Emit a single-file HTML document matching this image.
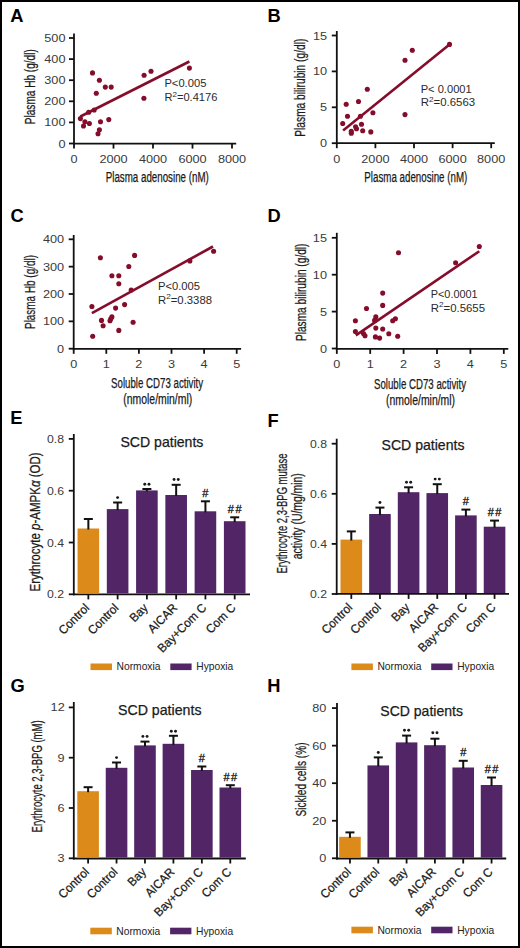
<!DOCTYPE html>
<html><head><meta charset="utf-8"><style>
html,body{margin:0;padding:0;background:#fff;}
body{width:520px;height:948px;overflow:hidden;}
svg{display:block;font-family:"Liberation Sans", sans-serif;}
</style></head><body>
<svg width="520" height="948" viewBox="0 0 520 948">
<rect x="0" y="0" width="520" height="948" fill="#fff"/>
<text x="10.15" y="22.3" font-size="18.3" fill="#000" text-anchor="start" font-weight="bold">A</text>
<line x1="74" y1="33.5" x2="74" y2="144.5" stroke="#111" stroke-width="1.8" stroke-linecap="butt"/>
<line x1="73.1" y1="143.6" x2="236.2" y2="143.6" stroke="#111" stroke-width="1.8" stroke-linecap="butt"/>
<line x1="69" y1="143.5" x2="74" y2="143.5" stroke="#111" stroke-width="1.8" stroke-linecap="butt"/>
<text x="65.5" y="147.5" font-size="11.3" fill="#3a3a3a" text-anchor="end" textLength="7.06" lengthAdjust="spacingAndGlyphs">0</text>
<line x1="69" y1="122.4" x2="74" y2="122.4" stroke="#111" stroke-width="1.8" stroke-linecap="butt"/>
<text x="65.5" y="126.4" font-size="11.3" fill="#3a3a3a" text-anchor="end" textLength="21.19" lengthAdjust="spacingAndGlyphs">100</text>
<line x1="69" y1="101.30000000000001" x2="74" y2="101.30000000000001" stroke="#111" stroke-width="1.8" stroke-linecap="butt"/>
<text x="65.5" y="105.30000000000001" font-size="11.3" fill="#3a3a3a" text-anchor="end" textLength="21.19" lengthAdjust="spacingAndGlyphs">200</text>
<line x1="69" y1="80.2" x2="74" y2="80.2" stroke="#111" stroke-width="1.8" stroke-linecap="butt"/>
<text x="65.5" y="84.2" font-size="11.3" fill="#3a3a3a" text-anchor="end" textLength="21.19" lengthAdjust="spacingAndGlyphs">300</text>
<line x1="69" y1="59.10000000000001" x2="74" y2="59.10000000000001" stroke="#111" stroke-width="1.8" stroke-linecap="butt"/>
<text x="65.5" y="63.10000000000001" font-size="11.3" fill="#3a3a3a" text-anchor="end" textLength="21.19" lengthAdjust="spacingAndGlyphs">400</text>
<line x1="69" y1="38.0" x2="74" y2="38.0" stroke="#111" stroke-width="1.8" stroke-linecap="butt"/>
<text x="65.5" y="42.0" font-size="11.3" fill="#3a3a3a" text-anchor="end" textLength="21.19" lengthAdjust="spacingAndGlyphs">500</text>
<line x1="74.0" y1="143.6" x2="74.0" y2="148.6" stroke="#111" stroke-width="1.8" stroke-linecap="butt"/>
<text x="74.0" y="163" font-size="11.3" fill="#3a3a3a" text-anchor="middle" textLength="7.06" lengthAdjust="spacingAndGlyphs">0</text>
<line x1="113.5" y1="143.6" x2="113.5" y2="148.6" stroke="#111" stroke-width="1.8" stroke-linecap="butt"/>
<text x="113.5" y="163" font-size="11.3" fill="#3a3a3a" text-anchor="middle" textLength="28.25" lengthAdjust="spacingAndGlyphs">2000</text>
<line x1="153.0" y1="143.6" x2="153.0" y2="148.6" stroke="#111" stroke-width="1.8" stroke-linecap="butt"/>
<text x="153.0" y="163" font-size="11.3" fill="#3a3a3a" text-anchor="middle" textLength="28.25" lengthAdjust="spacingAndGlyphs">4000</text>
<line x1="192.5" y1="143.6" x2="192.5" y2="148.6" stroke="#111" stroke-width="1.8" stroke-linecap="butt"/>
<text x="192.5" y="163" font-size="11.3" fill="#3a3a3a" text-anchor="middle" textLength="28.25" lengthAdjust="spacingAndGlyphs">6000</text>
<line x1="232.0" y1="143.6" x2="232.0" y2="148.6" stroke="#111" stroke-width="1.8" stroke-linecap="butt"/>
<text x="232.0" y="163" font-size="11.3" fill="#3a3a3a" text-anchor="middle" textLength="28.25" lengthAdjust="spacingAndGlyphs">8000</text>
<text x="35.4" y="86.7" font-size="13.8" fill="#1a1a1a" text-anchor="middle" textLength="75" lengthAdjust="spacingAndGlyphs" transform="rotate(-90 35.4 86.7)" stroke="#1a1a1a" stroke-width="0.25">Plasma Hb (g/dl)</text>
<text x="157.25" y="182.4" font-size="13.8" fill="#1a1a1a" text-anchor="middle" textLength="103" lengthAdjust="spacingAndGlyphs" stroke="#1a1a1a" stroke-width="0.25">Plasma adenosine (nM)</text>
<line x1="80.4" y1="116.5" x2="189.4" y2="61.5" stroke="#850d2c" stroke-width="2.6" stroke-linecap="butt"/>
<circle cx="92.5" cy="72.9" r="2.55" fill="#850d2c"/>
<circle cx="99.4" cy="80.2" r="2.55" fill="#850d2c"/>
<circle cx="105.3" cy="87.1" r="2.55" fill="#850d2c"/>
<circle cx="111.2" cy="87.1" r="2.55" fill="#850d2c"/>
<circle cx="96.3" cy="93.3" r="2.55" fill="#850d2c"/>
<circle cx="144.1" cy="75.3" r="2.55" fill="#850d2c"/>
<circle cx="151" cy="71.2" r="2.55" fill="#850d2c"/>
<circle cx="143.9" cy="98.2" r="2.55" fill="#850d2c"/>
<circle cx="80.4" cy="118.6" r="2.55" fill="#850d2c"/>
<circle cx="84.9" cy="121.7" r="2.55" fill="#850d2c"/>
<circle cx="83.5" cy="126" r="2.55" fill="#850d2c"/>
<circle cx="89.4" cy="123.5" r="2.55" fill="#850d2c"/>
<circle cx="88.7" cy="112.2" r="2.55" fill="#850d2c"/>
<circle cx="94.2" cy="110" r="2.55" fill="#850d2c"/>
<circle cx="100.5" cy="121.7" r="2.55" fill="#850d2c"/>
<circle cx="108.8" cy="119.6" r="2.55" fill="#850d2c"/>
<circle cx="99.4" cy="129.7" r="2.55" fill="#850d2c"/>
<circle cx="98" cy="133.8" r="2.55" fill="#850d2c"/>
<circle cx="189.4" cy="68.1" r="2.55" fill="#850d2c"/>
<text x="164.4" y="87.3" font-size="10.5" fill="#2a2a2a" text-anchor="start" textLength="42" lengthAdjust="spacingAndGlyphs">P&lt;0.005</text>
<text x="164.4" y="100.8" font-size="10.5" fill="#2a2a2a" textLength="53" lengthAdjust="spacingAndGlyphs">R<tspan font-size="7.6" dy="-4.3">2</tspan><tspan dy="4.3">=0.4176</tspan></text>
<text x="267.6" y="22.3" font-size="18.3" fill="#000" text-anchor="start" font-weight="bold">B</text>
<line x1="336.8" y1="31" x2="336.8" y2="144.1" stroke="#111" stroke-width="1.8" stroke-linecap="butt"/>
<line x1="335.90000000000003" y1="143.2" x2="494.8" y2="143.2" stroke="#111" stroke-width="1.8" stroke-linecap="butt"/>
<line x1="331.8" y1="143.2" x2="336.8" y2="143.2" stroke="#111" stroke-width="1.8" stroke-linecap="butt"/>
<text x="327.1" y="147.2" font-size="11.3" fill="#3a3a3a" text-anchor="end" textLength="7.06" lengthAdjust="spacingAndGlyphs">0</text>
<line x1="331.8" y1="107.29999999999998" x2="336.8" y2="107.29999999999998" stroke="#111" stroke-width="1.8" stroke-linecap="butt"/>
<text x="327.1" y="111.29999999999998" font-size="11.3" fill="#3a3a3a" text-anchor="end" textLength="7.06" lengthAdjust="spacingAndGlyphs">5</text>
<line x1="331.8" y1="71.39999999999999" x2="336.8" y2="71.39999999999999" stroke="#111" stroke-width="1.8" stroke-linecap="butt"/>
<text x="327.1" y="75.39999999999999" font-size="11.3" fill="#3a3a3a" text-anchor="end" textLength="14.12" lengthAdjust="spacingAndGlyphs">10</text>
<line x1="331.8" y1="35.5" x2="336.8" y2="35.5" stroke="#111" stroke-width="1.8" stroke-linecap="butt"/>
<text x="327.1" y="39.5" font-size="11.3" fill="#3a3a3a" text-anchor="end" textLength="14.12" lengthAdjust="spacingAndGlyphs">15</text>
<line x1="336.8" y1="143.2" x2="336.8" y2="148.2" stroke="#111" stroke-width="1.8" stroke-linecap="butt"/>
<text x="336.8" y="163" font-size="11.3" fill="#3a3a3a" text-anchor="middle" textLength="7.06" lengthAdjust="spacingAndGlyphs">0</text>
<line x1="375.40000000000003" y1="143.2" x2="375.40000000000003" y2="148.2" stroke="#111" stroke-width="1.8" stroke-linecap="butt"/>
<text x="375.40000000000003" y="163" font-size="11.3" fill="#3a3a3a" text-anchor="middle" textLength="28.25" lengthAdjust="spacingAndGlyphs">2000</text>
<line x1="414.0" y1="143.2" x2="414.0" y2="148.2" stroke="#111" stroke-width="1.8" stroke-linecap="butt"/>
<text x="414.0" y="163" font-size="11.3" fill="#3a3a3a" text-anchor="middle" textLength="28.25" lengthAdjust="spacingAndGlyphs">4000</text>
<line x1="452.6" y1="143.2" x2="452.6" y2="148.2" stroke="#111" stroke-width="1.8" stroke-linecap="butt"/>
<text x="452.6" y="163" font-size="11.3" fill="#3a3a3a" text-anchor="middle" textLength="28.25" lengthAdjust="spacingAndGlyphs">6000</text>
<line x1="491.20000000000005" y1="143.2" x2="491.20000000000005" y2="148.2" stroke="#111" stroke-width="1.8" stroke-linecap="butt"/>
<text x="491.20000000000005" y="163" font-size="11.3" fill="#3a3a3a" text-anchor="middle" textLength="28.25" lengthAdjust="spacingAndGlyphs">8000</text>
<text x="305.5" y="87.7" font-size="13.8" fill="#1a1a1a" text-anchor="middle" textLength="98" lengthAdjust="spacingAndGlyphs" transform="rotate(-90 305.5 87.7)" stroke="#1a1a1a" stroke-width="0.25">Plasma bilirubin (g/dl)</text>
<text x="415.8" y="182.3" font-size="13.8" fill="#1a1a1a" text-anchor="middle" textLength="103" lengthAdjust="spacingAndGlyphs" stroke="#1a1a1a" stroke-width="0.25">Plasma adenosine (nM)</text>
<line x1="343.1" y1="130.4" x2="449.5" y2="44.4" stroke="#850d2c" stroke-width="2.6" stroke-linecap="butt"/>
<circle cx="412.3" cy="50.2" r="2.55" fill="#850d2c"/>
<circle cx="405" cy="60.2" r="2.55" fill="#850d2c"/>
<circle cx="405" cy="114.6" r="2.55" fill="#850d2c"/>
<circle cx="367.3" cy="89.2" r="2.55" fill="#850d2c"/>
<circle cx="358.5" cy="101.5" r="2.55" fill="#850d2c"/>
<circle cx="346.2" cy="104.2" r="2.55" fill="#850d2c"/>
<circle cx="347.5" cy="116.2" r="2.55" fill="#850d2c"/>
<circle cx="342.7" cy="123.5" r="2.55" fill="#850d2c"/>
<circle cx="372.9" cy="112.7" r="2.55" fill="#850d2c"/>
<circle cx="360.4" cy="116.2" r="2.55" fill="#850d2c"/>
<circle cx="361.5" cy="124.2" r="2.55" fill="#850d2c"/>
<circle cx="355.6" cy="126.7" r="2.55" fill="#850d2c"/>
<circle cx="356.5" cy="128.8" r="2.55" fill="#850d2c"/>
<circle cx="351.3" cy="131.2" r="2.55" fill="#850d2c"/>
<circle cx="351.3" cy="133.3" r="2.55" fill="#850d2c"/>
<circle cx="362.7" cy="130.8" r="2.55" fill="#850d2c"/>
<circle cx="370.8" cy="131.9" r="2.55" fill="#850d2c"/>
<circle cx="449.5" cy="44.4" r="2.55" fill="#850d2c"/>
<text x="420.7" y="93.3" font-size="10.5" fill="#2a2a2a" text-anchor="start" textLength="51" lengthAdjust="spacingAndGlyphs">P&lt; 0.0001</text>
<text x="420.7" y="106.0" font-size="10.5" fill="#2a2a2a" textLength="54.4" lengthAdjust="spacingAndGlyphs">R<tspan font-size="7.6" dy="-4.3">2</tspan><tspan dy="4.3">=0.6563</tspan></text>
<text x="10.45" y="222.1" font-size="18.3" fill="#000" text-anchor="start" font-weight="bold">C</text>
<line x1="73.7" y1="235" x2="73.7" y2="349.7" stroke="#111" stroke-width="1.8" stroke-linecap="butt"/>
<line x1="72.8" y1="348.8" x2="241.1" y2="348.8" stroke="#111" stroke-width="1.8" stroke-linecap="butt"/>
<line x1="68.7" y1="348.7" x2="73.7" y2="348.7" stroke="#111" stroke-width="1.8" stroke-linecap="butt"/>
<text x="64.2" y="352.7" font-size="11.3" fill="#3a3a3a" text-anchor="end" textLength="7.06" lengthAdjust="spacingAndGlyphs">0</text>
<line x1="68.7" y1="321.34999999999997" x2="73.7" y2="321.34999999999997" stroke="#111" stroke-width="1.8" stroke-linecap="butt"/>
<text x="64.2" y="325.34999999999997" font-size="11.3" fill="#3a3a3a" text-anchor="end" textLength="21.19" lengthAdjust="spacingAndGlyphs">100</text>
<line x1="68.7" y1="294.0" x2="73.7" y2="294.0" stroke="#111" stroke-width="1.8" stroke-linecap="butt"/>
<text x="64.2" y="298.0" font-size="11.3" fill="#3a3a3a" text-anchor="end" textLength="21.19" lengthAdjust="spacingAndGlyphs">200</text>
<line x1="68.7" y1="266.65" x2="73.7" y2="266.65" stroke="#111" stroke-width="1.8" stroke-linecap="butt"/>
<text x="64.2" y="270.65" font-size="11.3" fill="#3a3a3a" text-anchor="end" textLength="21.19" lengthAdjust="spacingAndGlyphs">300</text>
<line x1="68.7" y1="239.29999999999998" x2="73.7" y2="239.29999999999998" stroke="#111" stroke-width="1.8" stroke-linecap="butt"/>
<text x="64.2" y="243.29999999999998" font-size="11.3" fill="#3a3a3a" text-anchor="end" textLength="21.19" lengthAdjust="spacingAndGlyphs">400</text>
<line x1="73.7" y1="348.8" x2="73.7" y2="353.8" stroke="#111" stroke-width="1.8" stroke-linecap="butt"/>
<text x="73.7" y="367.5" font-size="11.3" fill="#3a3a3a" text-anchor="middle" textLength="7.06" lengthAdjust="spacingAndGlyphs">0</text>
<line x1="106.30000000000001" y1="348.8" x2="106.30000000000001" y2="353.8" stroke="#111" stroke-width="1.8" stroke-linecap="butt"/>
<text x="106.30000000000001" y="367.5" font-size="11.3" fill="#3a3a3a" text-anchor="middle" textLength="7.06" lengthAdjust="spacingAndGlyphs">1</text>
<line x1="138.9" y1="348.8" x2="138.9" y2="353.8" stroke="#111" stroke-width="1.8" stroke-linecap="butt"/>
<text x="138.9" y="367.5" font-size="11.3" fill="#3a3a3a" text-anchor="middle" textLength="7.06" lengthAdjust="spacingAndGlyphs">2</text>
<line x1="171.5" y1="348.8" x2="171.5" y2="353.8" stroke="#111" stroke-width="1.8" stroke-linecap="butt"/>
<text x="171.5" y="367.5" font-size="11.3" fill="#3a3a3a" text-anchor="middle" textLength="7.06" lengthAdjust="spacingAndGlyphs">3</text>
<line x1="204.10000000000002" y1="348.8" x2="204.10000000000002" y2="353.8" stroke="#111" stroke-width="1.8" stroke-linecap="butt"/>
<text x="204.10000000000002" y="367.5" font-size="11.3" fill="#3a3a3a" text-anchor="middle" textLength="7.06" lengthAdjust="spacingAndGlyphs">4</text>
<line x1="236.7" y1="348.8" x2="236.7" y2="353.8" stroke="#111" stroke-width="1.8" stroke-linecap="butt"/>
<text x="236.7" y="367.5" font-size="11.3" fill="#3a3a3a" text-anchor="middle" textLength="7.06" lengthAdjust="spacingAndGlyphs">5</text>
<text x="35" y="292" font-size="13.8" fill="#1a1a1a" text-anchor="middle" textLength="74" lengthAdjust="spacingAndGlyphs" transform="rotate(-90 35 292)" stroke="#1a1a1a" stroke-width="0.25">Plasma Hb (g/dl)</text>
<text x="157.1" y="387.5" font-size="13.8" fill="#1a1a1a" text-anchor="middle" textLength="92" lengthAdjust="spacingAndGlyphs" stroke="#1a1a1a" stroke-width="0.25">Soluble CD73 activity</text>
<text x="157.75" y="404" font-size="13.8" fill="#1a1a1a" text-anchor="middle" textLength="69" lengthAdjust="spacingAndGlyphs" stroke="#1a1a1a" stroke-width="0.25">(nmole/min/ml)</text>
<line x1="91.9" y1="313.1" x2="213" y2="246.5" stroke="#850d2c" stroke-width="2.6" stroke-linecap="butt"/>
<circle cx="100.4" cy="257.7" r="2.55" fill="#850d2c"/>
<circle cx="134.6" cy="255.4" r="2.55" fill="#850d2c"/>
<circle cx="128.8" cy="266.5" r="2.55" fill="#850d2c"/>
<circle cx="111.9" cy="275.8" r="2.55" fill="#850d2c"/>
<circle cx="118.8" cy="275.8" r="2.55" fill="#850d2c"/>
<circle cx="118.8" cy="283.8" r="2.55" fill="#850d2c"/>
<circle cx="131.2" cy="290" r="2.55" fill="#850d2c"/>
<circle cx="91.9" cy="306.5" r="2.55" fill="#850d2c"/>
<circle cx="124.6" cy="304.6" r="2.55" fill="#850d2c"/>
<circle cx="115.6" cy="308.1" r="2.55" fill="#850d2c"/>
<circle cx="101.5" cy="320.4" r="2.55" fill="#850d2c"/>
<circle cx="111.9" cy="316.9" r="2.55" fill="#850d2c"/>
<circle cx="110.8" cy="318.8" r="2.55" fill="#850d2c"/>
<circle cx="110" cy="320.8" r="2.55" fill="#850d2c"/>
<circle cx="103.1" cy="325.8" r="2.55" fill="#850d2c"/>
<circle cx="133.1" cy="322.3" r="2.55" fill="#850d2c"/>
<circle cx="118.8" cy="330.4" r="2.55" fill="#850d2c"/>
<circle cx="92.7" cy="336.2" r="2.55" fill="#850d2c"/>
<circle cx="189.9" cy="260.9" r="2.55" fill="#850d2c"/>
<circle cx="213.6" cy="251.2" r="2.55" fill="#850d2c"/>
<text x="158" y="290.3" font-size="10.5" fill="#2a2a2a" text-anchor="start" textLength="42" lengthAdjust="spacingAndGlyphs">P&lt;0.005</text>
<text x="158" y="303.6" font-size="10.5" fill="#2a2a2a" textLength="54" lengthAdjust="spacingAndGlyphs">R<tspan font-size="7.6" dy="-4.3">2</tspan><tspan dy="4.3">=0.3388</tspan></text>
<text x="267.6" y="221.7" font-size="18.3" fill="#000" text-anchor="start" font-weight="bold">D</text>
<line x1="336.8" y1="232.8" x2="336.8" y2="349.79999999999995" stroke="#111" stroke-width="1.8" stroke-linecap="butt"/>
<line x1="335.90000000000003" y1="348.9" x2="508.3" y2="348.9" stroke="#111" stroke-width="1.8" stroke-linecap="butt"/>
<line x1="331.8" y1="348.5" x2="336.8" y2="348.5" stroke="#111" stroke-width="1.8" stroke-linecap="butt"/>
<text x="327" y="352.5" font-size="11.3" fill="#3a3a3a" text-anchor="end" textLength="7.06" lengthAdjust="spacingAndGlyphs">0</text>
<line x1="331.8" y1="311.6" x2="336.8" y2="311.6" stroke="#111" stroke-width="1.8" stroke-linecap="butt"/>
<text x="327" y="315.6" font-size="11.3" fill="#3a3a3a" text-anchor="end" textLength="7.06" lengthAdjust="spacingAndGlyphs">5</text>
<line x1="331.8" y1="274.7" x2="336.8" y2="274.7" stroke="#111" stroke-width="1.8" stroke-linecap="butt"/>
<text x="327" y="278.7" font-size="11.3" fill="#3a3a3a" text-anchor="end" textLength="14.12" lengthAdjust="spacingAndGlyphs">10</text>
<line x1="331.8" y1="237.8" x2="336.8" y2="237.8" stroke="#111" stroke-width="1.8" stroke-linecap="butt"/>
<text x="327" y="241.8" font-size="11.3" fill="#3a3a3a" text-anchor="end" textLength="14.12" lengthAdjust="spacingAndGlyphs">15</text>
<line x1="336.8" y1="348.9" x2="336.8" y2="353.9" stroke="#111" stroke-width="1.8" stroke-linecap="butt"/>
<text x="336.8" y="367.5" font-size="11.3" fill="#3a3a3a" text-anchor="middle" textLength="7.06" lengthAdjust="spacingAndGlyphs">0</text>
<line x1="370.2" y1="348.9" x2="370.2" y2="353.9" stroke="#111" stroke-width="1.8" stroke-linecap="butt"/>
<text x="370.2" y="367.5" font-size="11.3" fill="#3a3a3a" text-anchor="middle" textLength="7.06" lengthAdjust="spacingAndGlyphs">1</text>
<line x1="403.6" y1="348.9" x2="403.6" y2="353.9" stroke="#111" stroke-width="1.8" stroke-linecap="butt"/>
<text x="403.6" y="367.5" font-size="11.3" fill="#3a3a3a" text-anchor="middle" textLength="7.06" lengthAdjust="spacingAndGlyphs">2</text>
<line x1="437.0" y1="348.9" x2="437.0" y2="353.9" stroke="#111" stroke-width="1.8" stroke-linecap="butt"/>
<text x="437.0" y="367.5" font-size="11.3" fill="#3a3a3a" text-anchor="middle" textLength="7.06" lengthAdjust="spacingAndGlyphs">3</text>
<line x1="470.4" y1="348.9" x2="470.4" y2="353.9" stroke="#111" stroke-width="1.8" stroke-linecap="butt"/>
<text x="470.4" y="367.5" font-size="11.3" fill="#3a3a3a" text-anchor="middle" textLength="7.06" lengthAdjust="spacingAndGlyphs">4</text>
<line x1="503.8" y1="348.9" x2="503.8" y2="353.9" stroke="#111" stroke-width="1.8" stroke-linecap="butt"/>
<text x="503.8" y="367.5" font-size="11.3" fill="#3a3a3a" text-anchor="middle" textLength="7.06" lengthAdjust="spacingAndGlyphs">5</text>
<text x="305.6" y="292.3" font-size="13.8" fill="#1a1a1a" text-anchor="middle" textLength="97.6" lengthAdjust="spacingAndGlyphs" transform="rotate(-90 305.6 292.3)" stroke="#1a1a1a" stroke-width="0.25">Plasma bilirubin (g/dl)</text>
<text x="420" y="388.5" font-size="13.8" fill="#1a1a1a" text-anchor="middle" textLength="92" lengthAdjust="spacingAndGlyphs" stroke="#1a1a1a" stroke-width="0.25">Soluble CD73 activity</text>
<text x="420.6" y="405" font-size="13.8" fill="#1a1a1a" text-anchor="middle" textLength="69" lengthAdjust="spacingAndGlyphs" stroke="#1a1a1a" stroke-width="0.25">(nmole/min/ml)</text>
<line x1="355.8" y1="335.4" x2="479.3" y2="251.2" stroke="#850d2c" stroke-width="2.6" stroke-linecap="butt"/>
<circle cx="398.5" cy="252.7" r="2.55" fill="#850d2c"/>
<circle cx="382.7" cy="293.1" r="2.55" fill="#850d2c"/>
<circle cx="382.7" cy="305.4" r="2.55" fill="#850d2c"/>
<circle cx="366.5" cy="308.5" r="2.55" fill="#850d2c"/>
<circle cx="355.4" cy="320.8" r="2.55" fill="#850d2c"/>
<circle cx="375.8" cy="316.9" r="2.55" fill="#850d2c"/>
<circle cx="374.6" cy="320.4" r="2.55" fill="#850d2c"/>
<circle cx="392.7" cy="320.8" r="2.55" fill="#850d2c"/>
<circle cx="395.4" cy="318.8" r="2.55" fill="#850d2c"/>
<circle cx="355.4" cy="331.5" r="2.55" fill="#850d2c"/>
<circle cx="363.5" cy="333.5" r="2.55" fill="#850d2c"/>
<circle cx="365" cy="335.8" r="2.55" fill="#850d2c"/>
<circle cx="375.8" cy="328.1" r="2.55" fill="#850d2c"/>
<circle cx="382.7" cy="329" r="2.55" fill="#850d2c"/>
<circle cx="388.8" cy="333.8" r="2.55" fill="#850d2c"/>
<circle cx="375.4" cy="336.9" r="2.55" fill="#850d2c"/>
<circle cx="379.6" cy="338.1" r="2.55" fill="#850d2c"/>
<circle cx="397.7" cy="336.2" r="2.55" fill="#850d2c"/>
<circle cx="455.6" cy="262.8" r="2.55" fill="#850d2c"/>
<circle cx="479.3" cy="246.5" r="2.55" fill="#850d2c"/>
<text x="430.7" y="298.1" font-size="10.5" fill="#2a2a2a" text-anchor="start" textLength="47" lengthAdjust="spacingAndGlyphs">P&lt;0.0001</text>
<text x="430.7" y="311.7" font-size="10.5" fill="#2a2a2a" textLength="54.3" lengthAdjust="spacingAndGlyphs">R<tspan font-size="7.6" dy="-4.3">2</tspan><tspan dy="4.3">=0.5655</tspan></text>
<text x="10.2" y="423.7" font-size="18.3" fill="#000" text-anchor="start" font-weight="bold">E</text>
<line x1="73.8" y1="434" x2="73.8" y2="595.3" stroke="#111" stroke-width="1.8" stroke-linecap="butt"/>
<line x1="72.89999999999999" y1="594.4" x2="250" y2="594.4" stroke="#111" stroke-width="1.8" stroke-linecap="butt"/>
<line x1="68.8" y1="594.3" x2="73.8" y2="594.3" stroke="#111" stroke-width="1.8" stroke-linecap="butt"/>
<text x="64" y="598.3" font-size="11.3" fill="#3a3a3a" text-anchor="end" textLength="17.06" lengthAdjust="spacingAndGlyphs">0.2</text>
<line x1="68.8" y1="542.5" x2="73.8" y2="542.5" stroke="#111" stroke-width="1.8" stroke-linecap="butt"/>
<text x="64" y="546.5" font-size="11.3" fill="#3a3a3a" text-anchor="end" textLength="17.06" lengthAdjust="spacingAndGlyphs">0.4</text>
<line x1="68.8" y1="490.7" x2="73.8" y2="490.7" stroke="#111" stroke-width="1.8" stroke-linecap="butt"/>
<text x="64" y="494.7" font-size="11.3" fill="#3a3a3a" text-anchor="end" textLength="17.06" lengthAdjust="spacingAndGlyphs">0.6</text>
<line x1="68.8" y1="438.9" x2="73.8" y2="438.9" stroke="#111" stroke-width="1.8" stroke-linecap="butt"/>
<text x="64" y="442.9" font-size="11.3" fill="#3a3a3a" text-anchor="end" textLength="17.06" lengthAdjust="spacingAndGlyphs">0.8</text>
<line x1="88.35" y1="594.4" x2="88.35" y2="599.4" stroke="#111" stroke-width="1.8" stroke-linecap="butt"/>
<line x1="117.62" y1="594.4" x2="117.62" y2="599.4" stroke="#111" stroke-width="1.8" stroke-linecap="butt"/>
<line x1="146.89" y1="594.4" x2="146.89" y2="599.4" stroke="#111" stroke-width="1.8" stroke-linecap="butt"/>
<line x1="176.16" y1="594.4" x2="176.16" y2="599.4" stroke="#111" stroke-width="1.8" stroke-linecap="butt"/>
<line x1="205.43" y1="594.4" x2="205.43" y2="599.4" stroke="#111" stroke-width="1.8" stroke-linecap="butt"/>
<line x1="234.7" y1="594.4" x2="234.7" y2="599.4" stroke="#111" stroke-width="1.8" stroke-linecap="butt"/>
<rect x="77.55" y="528.50" width="21.60" height="65.00" fill="#dc8a1a"/>
<line x1="88.35" y1="519" x2="88.35" y2="529.5" stroke="#111" stroke-width="2.0" stroke-linecap="butt"/>
<line x1="83.85" y1="519" x2="92.85" y2="519" stroke="#111" stroke-width="2.0" stroke-linecap="butt"/>
<rect x="106.82" y="509.10" width="21.60" height="84.40" fill="#522567"/>
<line x1="117.62" y1="502.5" x2="117.62" y2="510.1" stroke="#111" stroke-width="2.0" stroke-linecap="butt"/>
<line x1="113.12" y1="502.5" x2="122.12" y2="502.5" stroke="#111" stroke-width="2.0" stroke-linecap="butt"/>
<rect x="136.09" y="490.40" width="21.60" height="103.10" fill="#522567"/>
<line x1="146.89" y1="489" x2="146.89" y2="491.4" stroke="#111" stroke-width="2.0" stroke-linecap="butt"/>
<line x1="142.39" y1="489" x2="151.39" y2="489" stroke="#111" stroke-width="2.0" stroke-linecap="butt"/>
<rect x="165.36" y="495.00" width="21.60" height="98.50" fill="#522567"/>
<line x1="176.16" y1="484.8" x2="176.16" y2="496" stroke="#111" stroke-width="2.0" stroke-linecap="butt"/>
<line x1="171.66" y1="484.8" x2="180.66" y2="484.8" stroke="#111" stroke-width="2.0" stroke-linecap="butt"/>
<rect x="194.63" y="511.30" width="21.60" height="82.20" fill="#522567"/>
<line x1="205.43" y1="501.3" x2="205.43" y2="512.3" stroke="#111" stroke-width="2.0" stroke-linecap="butt"/>
<line x1="200.93" y1="501.3" x2="209.93" y2="501.3" stroke="#111" stroke-width="2.0" stroke-linecap="butt"/>
<rect x="223.90" y="521.20" width="21.60" height="72.30" fill="#522567"/>
<line x1="234.7" y1="517.3" x2="234.7" y2="522.2" stroke="#111" stroke-width="2.0" stroke-linecap="butt"/>
<line x1="230.2" y1="517.3" x2="239.2" y2="517.3" stroke="#111" stroke-width="2.0" stroke-linecap="butt"/>
<circle cx="117.62" cy="497.60" r="1.45" fill="#1a1a1a"/>
<circle cx="144.79" cy="484.30" r="1.45" fill="#1a1a1a"/>
<circle cx="148.99" cy="484.30" r="1.45" fill="#1a1a1a"/>
<circle cx="174.06" cy="479.50" r="1.45" fill="#1a1a1a"/>
<circle cx="178.26" cy="479.50" r="1.45" fill="#1a1a1a"/>
<text x="205.43" y="497.3" font-size="11" fill="#111" text-anchor="middle" stroke="#111" stroke-width="0.3">#</text>
<text x="230.9" y="513.3" font-size="11" fill="#111" text-anchor="middle" stroke="#111" stroke-width="0.3">#</text>
<text x="238.5" y="513.3" font-size="11" fill="#111" text-anchor="middle" stroke="#111" stroke-width="0.3">#</text>
<text x="90.14999999999999" y="608.6" font-size="12.2" fill="#1a1a1a" text-anchor="end" textLength="37.56" lengthAdjust="spacingAndGlyphs" transform="rotate(-45 90.14999999999999 608.6)" stroke="#1a1a1a" stroke-width="0.25">Control</text>
<text x="119.42" y="608.6" font-size="12.2" fill="#1a1a1a" text-anchor="end" textLength="37.56" lengthAdjust="spacingAndGlyphs" transform="rotate(-45 119.42 608.6)" stroke="#1a1a1a" stroke-width="0.25">Control</text>
<text x="148.69" y="608.6" font-size="12.2" fill="#1a1a1a" text-anchor="end" textLength="20.08" lengthAdjust="spacingAndGlyphs" transform="rotate(-45 148.69 608.6)" stroke="#1a1a1a" stroke-width="0.25">Bay</text>
<text x="177.96" y="608.6" font-size="12.2" fill="#1a1a1a" text-anchor="end" textLength="35.61" lengthAdjust="spacingAndGlyphs" transform="rotate(-45 177.96 608.6)" stroke="#1a1a1a" stroke-width="0.25">AICAR</text>
<text x="207.23000000000002" y="608.6" font-size="12.2" fill="#1a1a1a" text-anchor="end" textLength="63.13" lengthAdjust="spacingAndGlyphs" transform="rotate(-45 207.23000000000002 608.6)" stroke="#1a1a1a" stroke-width="0.25">Bay+Com C</text>
<text x="236.5" y="608.6" font-size="12.2" fill="#1a1a1a" text-anchor="end" textLength="36.25" lengthAdjust="spacingAndGlyphs" transform="rotate(-45 236.5 608.6)" stroke="#1a1a1a" stroke-width="0.25">Com C</text>
<text x="161.9" y="447.4" font-size="14.5" fill="#1a1a1a" text-anchor="middle" textLength="83" lengthAdjust="spacingAndGlyphs" stroke="#1a1a1a" stroke-width="0.25">SCD patients</text>
<text x="39.7" y="521.9" font-size="13.8" fill="#1a1a1a" stroke="#1a1a1a" stroke-width="0.25" text-anchor="middle" transform="rotate(-90 39.7 521.9)" textLength="139" lengthAdjust="spacingAndGlyphs">Erythrocyte <tspan font-style="italic">p</tspan>-AMPK<tspan font-style="italic">α</tspan> (OD)</text>
<rect x="90.50" y="663.50" width="21.50" height="6.60" fill="#dc8a1a"/>
<text x="116.5" y="670.3" font-size="10.4" fill="#222" text-anchor="start" textLength="44" lengthAdjust="spacingAndGlyphs">Normoxia</text>
<rect x="170.30" y="663.50" width="21.30" height="6.60" fill="#522567"/>
<text x="196.3" y="670.3" font-size="10.4" fill="#222" text-anchor="start" textLength="37" lengthAdjust="spacingAndGlyphs">Hypoxia</text>
<text x="267.6" y="427" font-size="18.3" fill="#000" text-anchor="start" font-weight="bold">F</text>
<line x1="336.7" y1="438.7" x2="336.7" y2="594.8" stroke="#111" stroke-width="1.8" stroke-linecap="butt"/>
<line x1="335.8" y1="593.9" x2="509" y2="593.9" stroke="#111" stroke-width="1.8" stroke-linecap="butt"/>
<line x1="331.7" y1="594.0" x2="336.7" y2="594.0" stroke="#111" stroke-width="1.8" stroke-linecap="butt"/>
<text x="327" y="598.0" font-size="11.3" fill="#3a3a3a" text-anchor="end" textLength="17.06" lengthAdjust="spacingAndGlyphs">0.2</text>
<line x1="331.7" y1="543.9" x2="336.7" y2="543.9" stroke="#111" stroke-width="1.8" stroke-linecap="butt"/>
<text x="327" y="547.9" font-size="11.3" fill="#3a3a3a" text-anchor="end" textLength="17.06" lengthAdjust="spacingAndGlyphs">0.4</text>
<line x1="331.7" y1="493.8" x2="336.7" y2="493.8" stroke="#111" stroke-width="1.8" stroke-linecap="butt"/>
<text x="327" y="497.8" font-size="11.3" fill="#3a3a3a" text-anchor="end" textLength="17.06" lengthAdjust="spacingAndGlyphs">0.6</text>
<line x1="331.7" y1="443.7" x2="336.7" y2="443.7" stroke="#111" stroke-width="1.8" stroke-linecap="butt"/>
<text x="327" y="447.7" font-size="11.3" fill="#3a3a3a" text-anchor="end" textLength="17.06" lengthAdjust="spacingAndGlyphs">0.8</text>
<line x1="351.3" y1="593.9" x2="351.3" y2="598.9" stroke="#111" stroke-width="1.8" stroke-linecap="butt"/>
<line x1="379.95" y1="593.9" x2="379.95" y2="598.9" stroke="#111" stroke-width="1.8" stroke-linecap="butt"/>
<line x1="408.6" y1="593.9" x2="408.6" y2="598.9" stroke="#111" stroke-width="1.8" stroke-linecap="butt"/>
<line x1="437.25" y1="593.9" x2="437.25" y2="598.9" stroke="#111" stroke-width="1.8" stroke-linecap="butt"/>
<line x1="465.9" y1="593.9" x2="465.9" y2="598.9" stroke="#111" stroke-width="1.8" stroke-linecap="butt"/>
<line x1="494.55" y1="593.9" x2="494.55" y2="598.9" stroke="#111" stroke-width="1.8" stroke-linecap="butt"/>
<rect x="340.50" y="539.60" width="21.60" height="53.40" fill="#dc8a1a"/>
<line x1="351.3" y1="531.4" x2="351.3" y2="540.6" stroke="#111" stroke-width="2.0" stroke-linecap="butt"/>
<line x1="346.8" y1="531.4" x2="355.8" y2="531.4" stroke="#111" stroke-width="2.0" stroke-linecap="butt"/>
<rect x="369.15" y="514.00" width="21.60" height="79.00" fill="#522567"/>
<line x1="379.95" y1="507.6" x2="379.95" y2="515" stroke="#111" stroke-width="2.0" stroke-linecap="butt"/>
<line x1="375.45" y1="507.6" x2="384.45" y2="507.6" stroke="#111" stroke-width="2.0" stroke-linecap="butt"/>
<rect x="397.80" y="492.20" width="21.60" height="100.80" fill="#522567"/>
<line x1="408.6" y1="487.3" x2="408.6" y2="493.2" stroke="#111" stroke-width="2.0" stroke-linecap="butt"/>
<line x1="404.1" y1="487.3" x2="413.1" y2="487.3" stroke="#111" stroke-width="2.0" stroke-linecap="butt"/>
<rect x="426.45" y="493.10" width="21.60" height="99.90" fill="#522567"/>
<line x1="437.25" y1="484.2" x2="437.25" y2="494.1" stroke="#111" stroke-width="2.0" stroke-linecap="butt"/>
<line x1="432.75" y1="484.2" x2="441.75" y2="484.2" stroke="#111" stroke-width="2.0" stroke-linecap="butt"/>
<rect x="455.10" y="515.40" width="21.60" height="77.60" fill="#522567"/>
<line x1="465.9" y1="509.6" x2="465.9" y2="516.4" stroke="#111" stroke-width="2.0" stroke-linecap="butt"/>
<line x1="461.4" y1="509.6" x2="470.4" y2="509.6" stroke="#111" stroke-width="2.0" stroke-linecap="butt"/>
<rect x="483.75" y="526.70" width="21.60" height="66.30" fill="#522567"/>
<line x1="494.55" y1="520.6" x2="494.55" y2="527.7" stroke="#111" stroke-width="2.0" stroke-linecap="butt"/>
<line x1="490.05" y1="520.6" x2="499.05" y2="520.6" stroke="#111" stroke-width="2.0" stroke-linecap="butt"/>
<circle cx="379.95" cy="502.50" r="1.45" fill="#1a1a1a"/>
<circle cx="406.50" cy="482.20" r="1.45" fill="#1a1a1a"/>
<circle cx="410.70" cy="482.20" r="1.45" fill="#1a1a1a"/>
<circle cx="435.15" cy="479.10" r="1.45" fill="#1a1a1a"/>
<circle cx="439.35" cy="479.10" r="1.45" fill="#1a1a1a"/>
<text x="465.9" y="505.1" font-size="11" fill="#111" text-anchor="middle" stroke="#111" stroke-width="0.3">#</text>
<text x="490.75" y="515.8" font-size="11" fill="#111" text-anchor="middle" stroke="#111" stroke-width="0.3">#</text>
<text x="498.35" y="515.8" font-size="11" fill="#111" text-anchor="middle" stroke="#111" stroke-width="0.3">#</text>
<text x="353.1" y="608.1" font-size="12.2" fill="#1a1a1a" text-anchor="end" textLength="37.56" lengthAdjust="spacingAndGlyphs" transform="rotate(-45 353.1 608.1)" stroke="#1a1a1a" stroke-width="0.25">Control</text>
<text x="381.75" y="608.1" font-size="12.2" fill="#1a1a1a" text-anchor="end" textLength="37.56" lengthAdjust="spacingAndGlyphs" transform="rotate(-45 381.75 608.1)" stroke="#1a1a1a" stroke-width="0.25">Control</text>
<text x="410.40000000000003" y="608.1" font-size="12.2" fill="#1a1a1a" text-anchor="end" textLength="20.08" lengthAdjust="spacingAndGlyphs" transform="rotate(-45 410.40000000000003 608.1)" stroke="#1a1a1a" stroke-width="0.25">Bay</text>
<text x="439.05" y="608.1" font-size="12.2" fill="#1a1a1a" text-anchor="end" textLength="35.61" lengthAdjust="spacingAndGlyphs" transform="rotate(-45 439.05 608.1)" stroke="#1a1a1a" stroke-width="0.25">AICAR</text>
<text x="467.7" y="608.1" font-size="12.2" fill="#1a1a1a" text-anchor="end" textLength="63.13" lengthAdjust="spacingAndGlyphs" transform="rotate(-45 467.7 608.1)" stroke="#1a1a1a" stroke-width="0.25">Bay+Com C</text>
<text x="496.35" y="608.1" font-size="12.2" fill="#1a1a1a" text-anchor="end" textLength="36.25" lengthAdjust="spacingAndGlyphs" transform="rotate(-45 496.35 608.1)" stroke="#1a1a1a" stroke-width="0.25">Com C</text>
<text x="423" y="450.2" font-size="14.5" fill="#1a1a1a" text-anchor="middle" textLength="83" lengthAdjust="spacingAndGlyphs" stroke="#1a1a1a" stroke-width="0.25">SCD patients</text>
<text x="287" y="513.5" font-size="13.8" fill="#1a1a1a" text-anchor="middle" textLength="120" lengthAdjust="spacingAndGlyphs" transform="rotate(-90 287 513.5)" stroke="#1a1a1a" stroke-width="0.25">Erythrocyte 2,3-BPG mutase</text>
<text x="302" y="516.2" font-size="13.8" fill="#1a1a1a" text-anchor="middle" textLength="86" lengthAdjust="spacingAndGlyphs" transform="rotate(-90 302 516.2)" stroke="#1a1a1a" stroke-width="0.25">activity (U/mg/min)</text>
<rect x="351.40" y="663.50" width="21.50" height="6.60" fill="#dc8a1a"/>
<text x="377.4" y="670.3" font-size="10.4" fill="#222" text-anchor="start" textLength="44" lengthAdjust="spacingAndGlyphs">Normoxia</text>
<rect x="431.20" y="663.50" width="21.30" height="6.60" fill="#522567"/>
<text x="457.2" y="670.3" font-size="10.4" fill="#222" text-anchor="start" textLength="37" lengthAdjust="spacingAndGlyphs">Hypoxia</text>
<text x="10.45" y="692" font-size="18.3" fill="#000" text-anchor="start" font-weight="bold">G</text>
<line x1="73.8" y1="702" x2="73.8" y2="859.4" stroke="#111" stroke-width="1.8" stroke-linecap="butt"/>
<line x1="72.89999999999999" y1="858.5" x2="245.8" y2="858.5" stroke="#111" stroke-width="1.8" stroke-linecap="butt"/>
<line x1="68.8" y1="858.3" x2="73.8" y2="858.3" stroke="#111" stroke-width="1.8" stroke-linecap="butt"/>
<text x="64.7" y="862.3" font-size="11.3" fill="#3a3a3a" text-anchor="end" textLength="7.06" lengthAdjust="spacingAndGlyphs">3</text>
<line x1="68.8" y1="808.0" x2="73.8" y2="808.0" stroke="#111" stroke-width="1.8" stroke-linecap="butt"/>
<text x="64.7" y="812.0" font-size="11.3" fill="#3a3a3a" text-anchor="end" textLength="7.06" lengthAdjust="spacingAndGlyphs">6</text>
<line x1="68.8" y1="757.6999999999999" x2="73.8" y2="757.6999999999999" stroke="#111" stroke-width="1.8" stroke-linecap="butt"/>
<text x="64.7" y="761.6999999999999" font-size="11.3" fill="#3a3a3a" text-anchor="end" textLength="7.06" lengthAdjust="spacingAndGlyphs">9</text>
<line x1="68.8" y1="707.4" x2="73.8" y2="707.4" stroke="#111" stroke-width="1.8" stroke-linecap="butt"/>
<text x="64.7" y="711.4" font-size="11.3" fill="#3a3a3a" text-anchor="end" textLength="14.12" lengthAdjust="spacingAndGlyphs">12</text>
<line x1="88.1" y1="858.5" x2="88.1" y2="863.5" stroke="#111" stroke-width="1.8" stroke-linecap="butt"/>
<line x1="116.54" y1="858.5" x2="116.54" y2="863.5" stroke="#111" stroke-width="1.8" stroke-linecap="butt"/>
<line x1="144.98" y1="858.5" x2="144.98" y2="863.5" stroke="#111" stroke-width="1.8" stroke-linecap="butt"/>
<line x1="173.42" y1="858.5" x2="173.42" y2="863.5" stroke="#111" stroke-width="1.8" stroke-linecap="butt"/>
<line x1="201.86" y1="858.5" x2="201.86" y2="863.5" stroke="#111" stroke-width="1.8" stroke-linecap="butt"/>
<line x1="230.3" y1="858.5" x2="230.3" y2="863.5" stroke="#111" stroke-width="1.8" stroke-linecap="butt"/>
<rect x="77.30" y="791.20" width="21.60" height="66.40" fill="#dc8a1a"/>
<line x1="88.1" y1="787.2" x2="88.1" y2="792.2" stroke="#111" stroke-width="2.0" stroke-linecap="butt"/>
<line x1="83.6" y1="787.2" x2="92.6" y2="787.2" stroke="#111" stroke-width="2.0" stroke-linecap="butt"/>
<rect x="105.74" y="767.80" width="21.60" height="89.80" fill="#522567"/>
<line x1="116.54" y1="762.5" x2="116.54" y2="768.8" stroke="#111" stroke-width="2.0" stroke-linecap="butt"/>
<line x1="112.04" y1="762.5" x2="121.04" y2="762.5" stroke="#111" stroke-width="2.0" stroke-linecap="butt"/>
<rect x="134.18" y="745.40" width="21.60" height="112.20" fill="#522567"/>
<line x1="144.98" y1="741.6" x2="144.98" y2="746.4" stroke="#111" stroke-width="2.0" stroke-linecap="butt"/>
<line x1="140.48" y1="741.6" x2="149.48" y2="741.6" stroke="#111" stroke-width="2.0" stroke-linecap="butt"/>
<rect x="162.62" y="743.80" width="21.60" height="113.80" fill="#522567"/>
<line x1="173.42" y1="735.8" x2="173.42" y2="744.8" stroke="#111" stroke-width="2.0" stroke-linecap="butt"/>
<line x1="168.92" y1="735.8" x2="177.92" y2="735.8" stroke="#111" stroke-width="2.0" stroke-linecap="butt"/>
<rect x="191.06" y="770.00" width="21.60" height="87.60" fill="#522567"/>
<line x1="201.86" y1="766.5" x2="201.86" y2="771" stroke="#111" stroke-width="2.0" stroke-linecap="butt"/>
<line x1="197.36" y1="766.5" x2="206.36" y2="766.5" stroke="#111" stroke-width="2.0" stroke-linecap="butt"/>
<rect x="219.50" y="787.50" width="21.60" height="70.10" fill="#522567"/>
<line x1="230.3" y1="785.2" x2="230.3" y2="788.5" stroke="#111" stroke-width="2.0" stroke-linecap="butt"/>
<line x1="225.8" y1="785.2" x2="234.8" y2="785.2" stroke="#111" stroke-width="2.0" stroke-linecap="butt"/>
<circle cx="116.54" cy="757.60" r="1.45" fill="#1a1a1a"/>
<circle cx="142.88" cy="736.40" r="1.45" fill="#1a1a1a"/>
<circle cx="147.08" cy="736.40" r="1.45" fill="#1a1a1a"/>
<circle cx="171.32" cy="731.20" r="1.45" fill="#1a1a1a"/>
<circle cx="175.52" cy="731.20" r="1.45" fill="#1a1a1a"/>
<text x="201.86" y="762.0" font-size="11" fill="#111" text-anchor="middle" stroke="#111" stroke-width="0.3">#</text>
<text x="226.5" y="781.1999999999999" font-size="11" fill="#111" text-anchor="middle" stroke="#111" stroke-width="0.3">#</text>
<text x="234.1" y="781.1999999999999" font-size="11" fill="#111" text-anchor="middle" stroke="#111" stroke-width="0.3">#</text>
<text x="89.89999999999999" y="872.7" font-size="12.2" fill="#1a1a1a" text-anchor="end" textLength="37.56" lengthAdjust="spacingAndGlyphs" transform="rotate(-45 89.89999999999999 872.7)" stroke="#1a1a1a" stroke-width="0.25">Control</text>
<text x="118.34" y="872.7" font-size="12.2" fill="#1a1a1a" text-anchor="end" textLength="37.56" lengthAdjust="spacingAndGlyphs" transform="rotate(-45 118.34 872.7)" stroke="#1a1a1a" stroke-width="0.25">Control</text>
<text x="146.78" y="872.7" font-size="12.2" fill="#1a1a1a" text-anchor="end" textLength="20.08" lengthAdjust="spacingAndGlyphs" transform="rotate(-45 146.78 872.7)" stroke="#1a1a1a" stroke-width="0.25">Bay</text>
<text x="175.22" y="872.7" font-size="12.2" fill="#1a1a1a" text-anchor="end" textLength="35.61" lengthAdjust="spacingAndGlyphs" transform="rotate(-45 175.22 872.7)" stroke="#1a1a1a" stroke-width="0.25">AICAR</text>
<text x="203.66000000000003" y="872.7" font-size="12.2" fill="#1a1a1a" text-anchor="end" textLength="63.13" lengthAdjust="spacingAndGlyphs" transform="rotate(-45 203.66000000000003 872.7)" stroke="#1a1a1a" stroke-width="0.25">Bay+Com C</text>
<text x="232.10000000000002" y="872.7" font-size="12.2" fill="#1a1a1a" text-anchor="end" textLength="36.25" lengthAdjust="spacingAndGlyphs" transform="rotate(-45 232.10000000000002 872.7)" stroke="#1a1a1a" stroke-width="0.25">Com C</text>
<text x="159.75" y="715.3" font-size="14.5" fill="#1a1a1a" text-anchor="middle" textLength="83.5" lengthAdjust="spacingAndGlyphs" stroke="#1a1a1a" stroke-width="0.25">SCD patients</text>
<text x="42.5" y="776.4" font-size="13.8" fill="#1a1a1a" text-anchor="middle" textLength="112" lengthAdjust="spacingAndGlyphs" transform="rotate(-90 42.5 776.4)" stroke="#1a1a1a" stroke-width="0.25">Erythrocyte 2,3-BPG (mM)</text>
<rect x="90.30" y="927.70" width="21.50" height="6.60" fill="#dc8a1a"/>
<text x="116.3" y="934.5" font-size="10.4" fill="#222" text-anchor="start" textLength="44" lengthAdjust="spacingAndGlyphs">Normoxia</text>
<rect x="170.10" y="927.70" width="21.30" height="6.60" fill="#522567"/>
<text x="196.1" y="934.5" font-size="10.4" fill="#222" text-anchor="start" textLength="37" lengthAdjust="spacingAndGlyphs">Hypoxia</text>
<text x="267.3" y="691.9" font-size="18.3" fill="#000" text-anchor="start" font-weight="bold">H</text>
<line x1="337" y1="703" x2="337" y2="859.4" stroke="#111" stroke-width="1.8" stroke-linecap="butt"/>
<line x1="336.1" y1="858.5" x2="506.2" y2="858.5" stroke="#111" stroke-width="1.8" stroke-linecap="butt"/>
<line x1="332" y1="858.3" x2="337" y2="858.3" stroke="#111" stroke-width="1.8" stroke-linecap="butt"/>
<text x="326.4" y="862.3" font-size="11.3" fill="#3a3a3a" text-anchor="end" textLength="7.06" lengthAdjust="spacingAndGlyphs">0</text>
<line x1="332" y1="820.75" x2="337" y2="820.75" stroke="#111" stroke-width="1.8" stroke-linecap="butt"/>
<text x="326.4" y="824.75" font-size="11.3" fill="#3a3a3a" text-anchor="end" textLength="14.12" lengthAdjust="spacingAndGlyphs">20</text>
<line x1="332" y1="783.1999999999999" x2="337" y2="783.1999999999999" stroke="#111" stroke-width="1.8" stroke-linecap="butt"/>
<text x="326.4" y="787.1999999999999" font-size="11.3" fill="#3a3a3a" text-anchor="end" textLength="14.12" lengthAdjust="spacingAndGlyphs">40</text>
<line x1="332" y1="745.65" x2="337" y2="745.65" stroke="#111" stroke-width="1.8" stroke-linecap="butt"/>
<text x="326.4" y="749.65" font-size="11.3" fill="#3a3a3a" text-anchor="end" textLength="14.12" lengthAdjust="spacingAndGlyphs">60</text>
<line x1="332" y1="708.0999999999999" x2="337" y2="708.0999999999999" stroke="#111" stroke-width="1.8" stroke-linecap="butt"/>
<text x="326.4" y="712.0999999999999" font-size="11.3" fill="#3a3a3a" text-anchor="end" textLength="14.12" lengthAdjust="spacingAndGlyphs">80</text>
<line x1="349.95" y1="858.5" x2="349.95" y2="863.5" stroke="#111" stroke-width="1.8" stroke-linecap="butt"/>
<line x1="378.27" y1="858.5" x2="378.27" y2="863.5" stroke="#111" stroke-width="1.8" stroke-linecap="butt"/>
<line x1="406.59" y1="858.5" x2="406.59" y2="863.5" stroke="#111" stroke-width="1.8" stroke-linecap="butt"/>
<line x1="434.91" y1="858.5" x2="434.91" y2="863.5" stroke="#111" stroke-width="1.8" stroke-linecap="butt"/>
<line x1="463.23" y1="858.5" x2="463.23" y2="863.5" stroke="#111" stroke-width="1.8" stroke-linecap="butt"/>
<line x1="491.55" y1="858.5" x2="491.55" y2="863.5" stroke="#111" stroke-width="1.8" stroke-linecap="butt"/>
<rect x="339.15" y="836.80" width="21.60" height="20.80" fill="#dc8a1a"/>
<line x1="349.95" y1="832.4" x2="349.95" y2="837.8" stroke="#111" stroke-width="2.0" stroke-linecap="butt"/>
<line x1="345.45" y1="832.4" x2="354.45" y2="832.4" stroke="#111" stroke-width="2.0" stroke-linecap="butt"/>
<rect x="367.47" y="765.40" width="21.60" height="92.20" fill="#522567"/>
<line x1="378.27" y1="757.4" x2="378.27" y2="766.4" stroke="#111" stroke-width="2.0" stroke-linecap="butt"/>
<line x1="373.77" y1="757.4" x2="382.77" y2="757.4" stroke="#111" stroke-width="2.0" stroke-linecap="butt"/>
<rect x="395.79" y="742.40" width="21.60" height="115.20" fill="#522567"/>
<line x1="406.59" y1="735.6" x2="406.59" y2="743.4" stroke="#111" stroke-width="2.0" stroke-linecap="butt"/>
<line x1="402.09" y1="735.6" x2="411.09" y2="735.6" stroke="#111" stroke-width="2.0" stroke-linecap="butt"/>
<rect x="424.11" y="745.20" width="21.60" height="112.40" fill="#522567"/>
<line x1="434.91" y1="738.7" x2="434.91" y2="746.2" stroke="#111" stroke-width="2.0" stroke-linecap="butt"/>
<line x1="430.41" y1="738.7" x2="439.41" y2="738.7" stroke="#111" stroke-width="2.0" stroke-linecap="butt"/>
<rect x="452.43" y="767.50" width="21.60" height="90.10" fill="#522567"/>
<line x1="463.23" y1="760.8" x2="463.23" y2="768.5" stroke="#111" stroke-width="2.0" stroke-linecap="butt"/>
<line x1="458.73" y1="760.8" x2="467.73" y2="760.8" stroke="#111" stroke-width="2.0" stroke-linecap="butt"/>
<rect x="480.75" y="785.00" width="21.60" height="72.60" fill="#522567"/>
<line x1="491.55" y1="777.5" x2="491.55" y2="786" stroke="#111" stroke-width="2.0" stroke-linecap="butt"/>
<line x1="487.05" y1="777.5" x2="496.05" y2="777.5" stroke="#111" stroke-width="2.0" stroke-linecap="butt"/>
<circle cx="378.27" cy="752.50" r="1.45" fill="#1a1a1a"/>
<circle cx="404.49" cy="730.30" r="1.45" fill="#1a1a1a"/>
<circle cx="408.69" cy="730.30" r="1.45" fill="#1a1a1a"/>
<circle cx="432.81" cy="732.70" r="1.45" fill="#1a1a1a"/>
<circle cx="437.01" cy="732.70" r="1.45" fill="#1a1a1a"/>
<text x="463.23" y="756.1999999999999" font-size="11" fill="#111" text-anchor="middle" stroke="#111" stroke-width="0.3">#</text>
<text x="487.75" y="773.0999999999999" font-size="11" fill="#111" text-anchor="middle" stroke="#111" stroke-width="0.3">#</text>
<text x="495.35" y="773.0999999999999" font-size="11" fill="#111" text-anchor="middle" stroke="#111" stroke-width="0.3">#</text>
<text x="351.75" y="872.7" font-size="12.2" fill="#1a1a1a" text-anchor="end" textLength="37.56" lengthAdjust="spacingAndGlyphs" transform="rotate(-45 351.75 872.7)" stroke="#1a1a1a" stroke-width="0.25">Control</text>
<text x="380.07" y="872.7" font-size="12.2" fill="#1a1a1a" text-anchor="end" textLength="37.56" lengthAdjust="spacingAndGlyphs" transform="rotate(-45 380.07 872.7)" stroke="#1a1a1a" stroke-width="0.25">Control</text>
<text x="408.39" y="872.7" font-size="12.2" fill="#1a1a1a" text-anchor="end" textLength="20.08" lengthAdjust="spacingAndGlyphs" transform="rotate(-45 408.39 872.7)" stroke="#1a1a1a" stroke-width="0.25">Bay</text>
<text x="436.71000000000004" y="872.7" font-size="12.2" fill="#1a1a1a" text-anchor="end" textLength="35.61" lengthAdjust="spacingAndGlyphs" transform="rotate(-45 436.71000000000004 872.7)" stroke="#1a1a1a" stroke-width="0.25">AICAR</text>
<text x="465.03000000000003" y="872.7" font-size="12.2" fill="#1a1a1a" text-anchor="end" textLength="63.13" lengthAdjust="spacingAndGlyphs" transform="rotate(-45 465.03000000000003 872.7)" stroke="#1a1a1a" stroke-width="0.25">Bay+Com C</text>
<text x="493.35" y="872.7" font-size="12.2" fill="#1a1a1a" text-anchor="end" textLength="36.25" lengthAdjust="spacingAndGlyphs" transform="rotate(-45 493.35 872.7)" stroke="#1a1a1a" stroke-width="0.25">Com C</text>
<text x="421.6" y="715.6" font-size="14.5" fill="#1a1a1a" text-anchor="middle" textLength="82.6" lengthAdjust="spacingAndGlyphs" stroke="#1a1a1a" stroke-width="0.25">SCD patients</text>
<text x="305.7" y="779.5" font-size="13.8" fill="#1a1a1a" text-anchor="middle" textLength="74" lengthAdjust="spacingAndGlyphs" transform="rotate(-90 305.7 779.5)" stroke="#1a1a1a" stroke-width="0.25">Sickled cells (%)</text>
<rect x="351.40" y="926.70" width="21.50" height="6.60" fill="#dc8a1a"/>
<text x="377.4" y="933.5" font-size="10.4" fill="#222" text-anchor="start" textLength="44" lengthAdjust="spacingAndGlyphs">Normoxia</text>
<rect x="431.20" y="926.70" width="21.30" height="6.60" fill="#522567"/>
<text x="457.2" y="933.5" font-size="10.4" fill="#222" text-anchor="start" textLength="37" lengthAdjust="spacingAndGlyphs">Hypoxia</text>
<rect x="1" y="1" width="518" height="946" fill="none" stroke="#000" stroke-width="2"/>
</svg>
</body></html>
